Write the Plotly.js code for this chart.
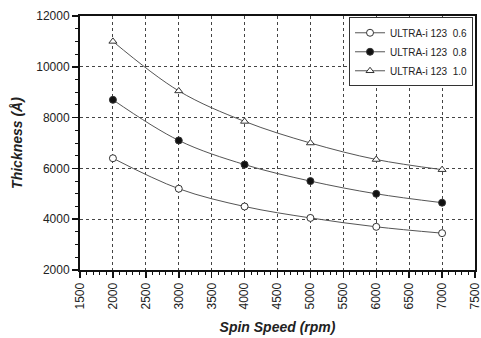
<!DOCTYPE html>
<html>
<head>
<meta charset="utf-8">
<script src="https://cdn.plot.ly/plotly-3.0.1.min.js"></script>
<style>html,body{margin:0;padding:0;background:#fff;}#chart{width:481px;height:338px;}</style>
</head>
<body>
<div id="chart"></div>
<script>
var spinSpeed = [2000, 3000, 4000, 5000, 6000, 7000];
var seriesNames = ["ULTRA-i 123  0.6", "ULTRA-i 123  0.8", "ULTRA-i 123  1.0"];
var thick06 = [6400, 5200, 4500, 4050, 3700, 3450];
var thick08 = [8700, 7100, 6150, 5500, 5000, 4650];
var thick10 = [11000, 9050, 7850, 7000, 6350, 5950];

var lineCol = '#555';
function tr(y, name, sym, fill) {
  return {
    x: spinSpeed, y: y, name: name, type: 'scatter', mode: 'lines+markers',
    line: {color: lineCol, width: 1, shape: 'spline', smoothing: 1},
    marker: {symbol: sym, size: 7, color: fill, line: {color: '#333', width: 1}}
  };
}
var data = [
  tr(thick06, seriesNames[0], 'circle', '#fff'),
  tr(thick08, seriesNames[1], 'circle', '#111'),
  tr(thick10, seriesNames[2], 'triangle-up', '#fff')
];
var fam = 'Liberation Sans, Arial, sans-serif';
var font = {family: fam, size: 12, color: '#222'};
var layout = {
  width: 481, height: 338,
  margin: {l: 80, r: 6, t: 16, b: 68},
  paper_bgcolor: '#fff', plot_bgcolor: '#fff',
  font: font,
  showlegend: true,
  legend: {x: 0.995, y: 0.995, xanchor: 'right', yanchor: 'top',
    bgcolor: '#fff', bordercolor: '#333', borderwidth: 1,
    font: {family: fam, size: 10, color: '#222'},
    tracegroupgap: 0},
  xaxis: {
    range: [1500, 7500], dtick: 500, tick0: 1500, tickangle: -90,
    tickformat: 'd', ticklabeloverflow: 'allow',
    ticks: 'outside', ticklen: 6, tickwidth: 1.5, tickcolor: '#111',
    minor: {dtick: 100, ticks: 'outside', ticklen: 3, tickwidth: 1, tickcolor: '#111', showgrid: false},
    showline: true, linecolor: '#111', linewidth: 2, mirror: true,
    showgrid: true, gridcolor: '#444', griddash: 'dot', gridwidth: 1,
    zeroline: false,
    title: {text: '<b><i>Spin Speed (rpm)</i></b>', font: {family: fam, size: 14, color: '#222'}, standoff: 14}
  },
  yaxis: {
    range: [2000, 12000], dtick: 2000, tickformat: 'd', ticklabeloverflow: 'allow',
    ticks: 'outside', ticklen: 6, tickwidth: 1.5, tickcolor: '#111',
    minor: {dtick: 500, ticks: 'outside', ticklen: 3, tickwidth: 1, tickcolor: '#111', showgrid: false},
    showline: true, linecolor: '#111', linewidth: 2, mirror: true,
    showgrid: true, gridcolor: '#444', griddash: 'dot', gridwidth: 1,
    zeroline: false,
    title: {text: '<b><i>Thickness (Å)</i></b>', font: {family: fam, size: 14, color: '#222'}, standoff: 10}
  }
};
Plotly.newPlot('chart', data, layout, {staticPlot: true, displayModeBar: false});
</script>
</body>
</html>
